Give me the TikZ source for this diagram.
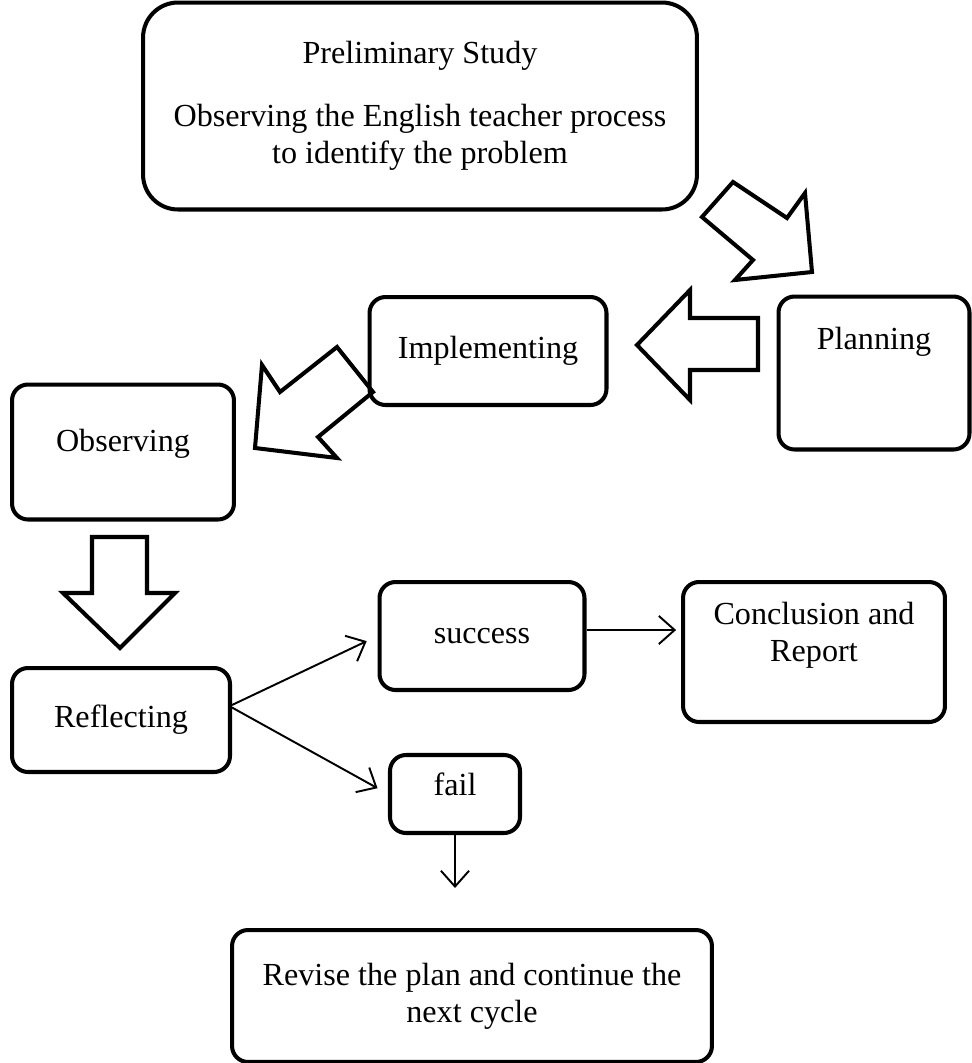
\documentclass[tikz,border=0pt]{standalone}
\usepackage{fontspec}
\setmainfont{Liberation Serif}
\usetikzlibrary{arrows.meta}

\begin{document}
\begin{tikzpicture}[x=0.02cm, y=-0.02cm,
  box/.style={draw, line width=2.3pt, rounded corners=0.32cm, align=center, inner sep=0pt,
    font=\fontsize{18.3}{21}\selectfont},
  bigbox/.style={box, rounded corners=0.7cm},
  blockarrow/.style={draw, line width=2.3pt, line join=miter, fill=white},
  thinarrow/.style={line width=1.1pt, -{Straight Barb[length=9pt, width=16pt, line width=1.1pt]}}]
  \useasboundingbox (0,0) rectangle (972,1063);
  % block arrows
  \draw[blockarrow] (733,182) -- (787,218) -- (805,193) -- (812,272) -- (735,280) -- (753,260) -- (702,217) -- cycle;
  \draw[blockarrow] (637,345) -- (690,290) -- (690,318) -- (758,318) -- (758,370) -- (690,370) -- (690,400) -- cycle;
  \draw[blockarrow] (337,347) -- (373,392) -- (318,437) -- (337,458) -- (255,448) -- (262,365) -- (280,392) -- cycle;
  \draw[blockarrow] (92,537) -- (147,537) -- (147,593) -- (175,593) -- (120,648) -- (63,593) -- (92,593) -- cycle;
  % boxes
  \node[bigbox, minimum width=11.08cm, minimum height=4.14cm] (prelim) at (420,106)
    {Preliminary Study\\[14.8pt]Observing the English teacher process\\to identify the problem};
  \node[box, minimum width=4.74cm, minimum height=2.16cm] (impl) at (488,351) {Implementing};
  \node[box, minimum width=3.82cm, minimum height=3.06cm, text depth=1.4cm] (plan) at (874,373) {Planning};
  \node[box, minimum width=4.44cm, minimum height=2.7cm, text depth=0.45cm] (obs) at (123,452) {Observing};
  \node[box, minimum width=4.36cm, minimum height=2.08cm] (refl) at (121,720) {Reflecting};
  \node[box, minimum width=4.1cm, minimum height=2.16cm] (succ) at (482,636) {success};
  \node[box, minimum width=5.24cm, minimum height=2.8cm, text depth=0.8cm] (concl) at (814,652)
    {Conclusion and\\Report};
  \node[box, minimum width=2.6cm, minimum height=1.56cm, text depth=0.4cm] (fail) at (455,794) {fail};
  \node[box, minimum width=9.6cm, minimum height=2.64cm] (revise) at (472,996)
    {Revise the plan and continue the\\next cycle};
  % connectors
  \draw[thinarrow, shorten >=6.8pt] ([yshift=0.3cm]refl.east) -- (succ.west);
  \draw[thinarrow, shorten >=6.8pt] ([yshift=0.25cm]refl.east) -- (fail.west);
  \draw[thinarrow, shorten >=2.8pt] ([yshift=0.12cm]succ.east) -- ([yshift=0.12cm]succ.east -| concl.west);
  \draw[thinarrow, shorten >=0.8cm] (fail.south) -- (fail.south |- revise.north);
\end{tikzpicture}
\end{document}
